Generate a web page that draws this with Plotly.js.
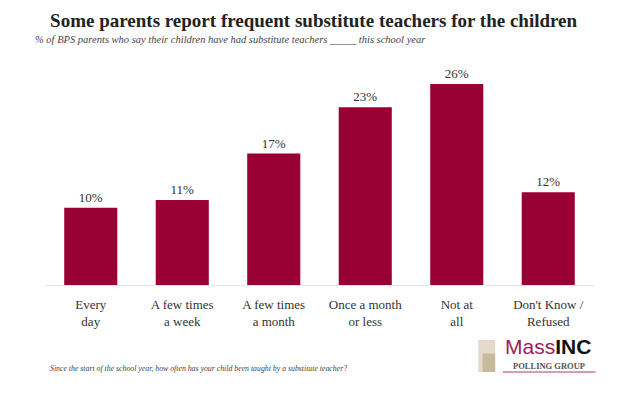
<!DOCTYPE html>
<html><head><meta charset="utf-8">
<script src="https://cdn.plot.ly/plotly-3.0.1.min.js"></script>
<style>html,body{margin:0;padding:0;background:#fff}#c{width:631px;height:395px}</style>
</head><body><div id="c"></div>
<script>
const categories = ["Every<br>day","A few times<br>a week","A few times<br>a month","Once a month<br>or less","Not at<br>all","Don't Know /<br>Refused"];
const values = [10, 11, 17, 23, 26, 12];
const valueLabels = ["10%","11%","17%","23%","26%","12%"];

const serif = "Liberation Serif, DejaVu Serif, serif";
const barColor = "#990033";

const trace = {
  type: "bar", x: categories, y: values,
  marker: {color: barColor, line: {width: 0}},
  text: valueLabels, textposition: "outside", cliponaxis: false,
  textfont: {family: serif, size: 13, color: "#333"},
  hoverinfo: "none"
};

const layout = {
  width: 631, height: 395,
  margin: {l: 45, r: 37, t: 53, b: 110},
  paper_bgcolor: "#fff", plot_bgcolor: "#fff",
  showlegend: false, bargap: 0.42,
  xaxis: {showline: true, linecolor: "#e6e6e6", linewidth: 1, ticks: "", showgrid: false,
          ticklabelstandoff: 7,
          tickfont: {family: serif, size: 13, color: "#333"}},
  yaxis: {range: [0, 30], visible: false, showgrid: false, zeroline: false},
  title: {text: "<b>Some parents report frequent substitute teachers for the children</b>",
          font: {family: serif, size: 19, color: "#222"}, x: 0.497, xanchor: "center", y: 0.948, yanchor: "middle"},
  annotations: [
    {text: "<i>% of BPS parents who say their children have had substitute teachers _____ this school year</i>",
     xref: "paper", yref: "paper", x: -0.022, y: 1.058, xanchor: "left", yanchor: "middle", showarrow: false,
     font: {family: serif, size: 10.5, color: "#444"}},
    {text: "<i>Since the start of the school year, how often has your child been taught by a substitute teacher?</i>",
     xref: "paper", yref: "paper", x: 0.005, y: -0.358, xanchor: "left", yanchor: "middle", showarrow: false,
     font: {family: serif, size: 7.8, color: "#444"}},
    {text: "<span style='color:#a3195b'>Mass</span><b>INC</b>",
     xref: "paper", yref: "paper", x: 0.916, y: -0.266, xanchor: "center", yanchor: "middle", showarrow: false,
     font: {family: "Liberation Sans, Arial, sans-serif", size: 21, color: "#111"}},
    {text: "<b>POLLING GROUP</b>",
     xref: "paper", yref: "paper", x: 0.918, y: -0.35, xanchor: "center", yanchor: "middle", showarrow: false,
     font: {family: serif, size: 8.5, color: "#555"}}
  ],
  shapes: [
    {type: "rect", xref: "paper", yref: "paper", x0: 0.789, x1: 0.82, y0: -0.375, y1: -0.237, fillcolor: "#e3dacb", line: {width: 0}},
    {type: "rect", xref: "paper", yref: "paper", x0: 0.797, x1: 0.82, y0: -0.375, y1: -0.295, fillcolor: "#c9b99c", line: {width: 0}},
    {type: "line", xref: "paper", yref: "paper", x0: 0.834, x1: 1.003, y0: -0.375, y1: -0.375, line: {color: "#d99ab4", width: 2}}
  ]
};
Plotly.newPlot("c", [trace], layout, {displayModeBar: false, staticPlot: true});
</script></body></html>
